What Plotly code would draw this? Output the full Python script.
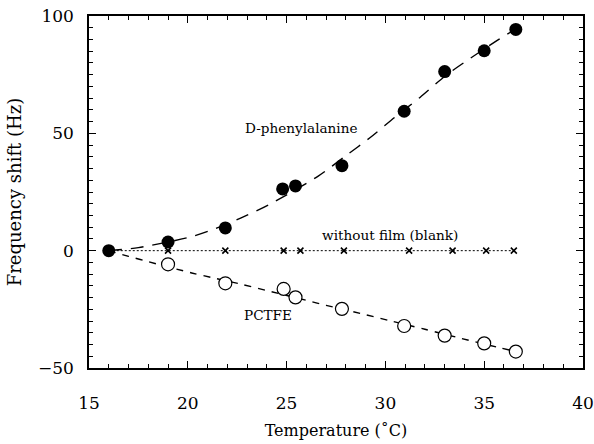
import plotly.graph_objects as go

# Data
phe_x = [16.0, 19.0, 21.9, 24.8, 25.45, 27.8, 30.95, 33.0, 35.0, 36.6]
phe_y = [0.0, 3.7, 9.7, 26.3, 27.6, 36.2, 59.4, 76.3, 85.2, 94.3]

pctfe_x = [19.0, 21.9, 24.85, 25.45, 27.8, 30.95, 33.0, 35.0, 36.6]
pctfe_y = [-5.8, -13.9, -16.3, -19.9, -24.8, -32.1, -36.2, -39.5, -43.0]

blank_x = [16.0, 19.0, 21.9, 24.85, 25.7, 27.9, 31.2, 33.4, 35.1, 36.5]
blank_y = [0, 0, 0, 0, 0, 0, 0, 0, 0, 0]

# fitted curves
phe_fit_x = [16.0, 17.5, 20.2, 21.4, 22.7, 24.1, 26.6, 28.0, 29.2, 30.5, 31.75, 33.05, 34.3, 35.7, 36.6]
phe_fit_y = [0.0, 1.3, 6.0, 9.4, 14.0, 19.6, 31.8, 40.5, 48.0, 57.0, 65.3, 74.6, 82.0, 89.8, 94.5]

pctfe_fit_x = [16.0, 17.0, 18.0, 20.2, 21.4, 22.7, 24.0, 26.2, 27.0, 29.0, 30.3, 32.0, 33.65, 35.75, 36.6]
pctfe_fit_y = [0.0, -2.4, -4.7, -9.5, -11.8, -14.3, -17.0, -21.6, -23.3, -27.3, -30.0, -33.5, -37.0, -41.3, -43.0]

labels = ["D-phenylalanine", "without film (blank)", "PCTFE"]
label_x = [25.73, 30.23, 24.06]
label_y = [52.4, 6.7, -27.4]

FONT = "DejaVu Serif"

fig = go.Figure()

fig.add_trace(go.Scatter(x=phe_fit_x, y=phe_fit_y, mode="lines",
                         line=dict(color="black", width=1.4, dash="13px,9px", shape="spline", smoothing=0.8),
                         showlegend=False, hoverinfo="skip"))
fig.add_trace(go.Scatter(x=pctfe_fit_x, y=pctfe_fit_y, mode="lines",
                         line=dict(color="black", width=1.4, dash="7px,7px", shape="spline", smoothing=0.8),
                         showlegend=False, hoverinfo="skip"))
fig.add_trace(go.Scatter(x=blank_x, y=blank_y, mode="lines+markers",
                         line=dict(color="black", width=1, dash="2px,2px"),
                         marker=dict(symbol="x-thin-open", size=6, line=dict(color="black", width=1.6)),
                         showlegend=False))
fig.add_trace(go.Scatter(x=pctfe_x, y=pctfe_y, mode="markers",
                         marker=dict(symbol="circle", size=13, color="white",
                                     line=dict(color="black", width=1.2)),
                         showlegend=False))
fig.add_trace(go.Scatter(x=phe_x, y=phe_y, mode="markers",
                         marker=dict(symbol="circle", size=13, color="black",
                                     line=dict(color="black", width=0)),
                         showlegend=False))

for t, x, y in zip(labels, label_x, label_y):
    fig.add_annotation(x=x, y=y, text=t, showarrow=False,
                       font=dict(family=FONT, size=13.6, color="black"))

axis_common = dict(
    showgrid=False, zeroline=False, automargin=False,
    showline=True, linecolor="black", linewidth=1.5, mirror="ticks",
    ticks="inside", ticklen=7, tickwidth=1.2, tickcolor="black",
    tickfont=dict(family=FONT, size=17, color="black"),
)

fig.update_xaxes(range=[15, 40], dtick=5, tick0=15, ticklabelstandoff=19,
                 minor=dict(dtick=1, ticks="inside", ticklen=4, tickwidth=1, tickcolor="black"),
                 title=dict(text="Temperature (˚C)", font=dict(family=FONT, size=16, color="black"), standoff=13),
                 **axis_common)
fig.update_yaxes(range=[-50, 100], dtick=50, tick0=-50, ticklabelstandoff=10,
                 minor=dict(dtick=5, ticks="inside", ticklen=4, tickwidth=1, tickcolor="black"),
                 title=dict(text="Frequency shift (Hz)", font=dict(family=FONT, size=18, color="black"), standoff=12),
                 **axis_common)

fig.update_layout(width=594, height=444,
                  margin=dict(l=89, r=11, t=16, b=76),
                  plot_bgcolor="white", paper_bgcolor="white",
                  font=dict(family=FONT, color="black"))

fig.write_html("out.html", config={"displayModeBar": False},
               post_script="document.body.style.margin='0';")
